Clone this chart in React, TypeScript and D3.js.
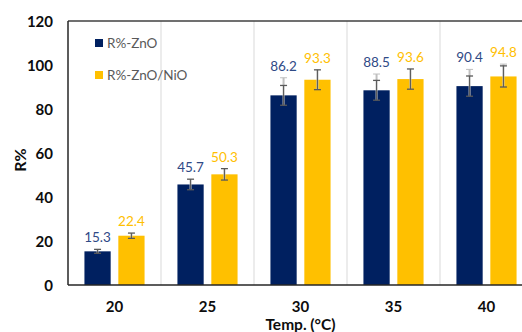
import React from "react";
import * as d3 from "d3";

const categories = ["20", "25", "30", "35", "40"];
const seriesNames = ["R%-ZnO", "R%-ZnO/NiO"];
const znoValues = [15.3, 45.7, 86.2, 88.5, 90.4];
const nioValues = [22.4, 50.3, 93.3, 93.6, 94.8];
const znoErr = [0.9, 2.4, 4.5, 4.5, 4.6];
const nioErr = [1.2, 2.6, 4.5, 4.6, 4.8];
const znoErrUpperLight = [0.9, 2.4, 8.0, 7.4, 7.6];
const nioErrUpperLight = [1.2, 2.6, 4.5, 4.6, 5.6];
const yTicks = [0, 20, 40, 60, 80, 100, 120];

const colors = ["#002060", "#FFC000"];
const labelColors = ["#2F4A86", "#FFC000"];

export default function App() {
  const W = 522, H = 332;
  const left = 68, top = 21, bottom = 285;
  const catW = 93;
  const x = d3.scaleBand<string>().domain(categories).range([left, left + catW * categories.length]).paddingInner(0).paddingOuter(0);
  const xs = d3.scaleBand<string>().domain(seriesNames).range([0, catW]).paddingInner(0.226).paddingOuter(0.485);
  const y = d3.scaleLinear().domain([0, 120]).range([bottom, top]);
  const series = [
    { name: seriesNames[0], values: znoValues, err: znoErr, light: znoErrUpperLight },
    { name: seriesNames[1], values: nioValues, err: nioErr, light: nioErrUpperLight },
  ];
  const font = "Lato, 'Open Sans', sans-serif";
  const right = left + catW * categories.length;
  return (
    <svg width={W} height={H} style={{ position: "absolute", left: 0, top: 0, background: "#fff" }} fontFamily={font}>
      {categories.slice(1).map((c) => (
        <line key={c} x1={x(c)!} x2={x(c)!} y1={top} y2={bottom} stroke="#D9D9D9" strokeWidth={1} />
      ))}
      {series.map((s, si) =>
        categories.map((c, i) => {
          const bx = x(c)! + xs(s.name)!;
          const v = s.values[i];
          return (
            <rect key={s.name + c} x={bx} y={y(v)} width={xs.bandwidth()} height={y(0) - y(v)} fill={colors[si]} />
          );
        })
      )}
      {series.map((s, si) =>
        categories.map((c, i) => {
          const cx = x(c)! + xs(s.name)! + xs.bandwidth() / 2;
          const v = s.values[i];
          const e = s.err[i];
          const l = s.light[i];
          return (
            <g key={"e" + s.name + c}>
              <line x1={cx} x2={cx} y1={y(v + l)} y2={y(v - e)} stroke="#BFBFBF" strokeWidth={2} />
              <line x1={cx} x2={cx} y1={y(v + e)} y2={y(v - e)} stroke="#595959" strokeWidth={1} />
              <line x1={cx - 3.5} x2={cx + 3.5} y1={y(v + e)} y2={y(v + e)} stroke="#595959" strokeWidth={1.3} />
              <line x1={cx - 3.5} x2={cx + 3.5} y1={y(v - e)} y2={y(v - e)} stroke="#595959" strokeWidth={1.3} />
              {l > e + 0.5 && (
                <line x1={cx - 3.5} x2={cx + 3.5} y1={y(v + l)} y2={y(v + l)} stroke="#BFBFBF" strokeWidth={1} />
              )}
            </g>
          );
        })
      )}
      {series.map((s, si) =>
        categories.map((c, i) => {
          const cx = x(c)! + xs(s.name)! + xs.bandwidth() / 2;
          const v = s.values[i];
          const t = Math.max(s.err[i], s.light[i]);
          return (
            <text key={"l" + s.name + c} x={cx} y={y(v + t) - 7} textAnchor="middle" fontSize={13.5} fill={labelColors[si]}>
              {v.toFixed(1)}
            </text>
          );
        })
      )}
      <line x1={left} x2={right} y1={top} y2={top} stroke="#404040" strokeWidth={1.5} />
      <line x1={left} x2={left} y1={top} y2={bottom} stroke="#262626" strokeWidth={1.5} />
      <line x1={left} x2={right} y1={bottom} y2={bottom} stroke="#262626" strokeWidth={1.5} />
      {yTicks.map((t) => (
        <text key={t} x={53} y={y(t) + 5.5} textAnchor="end" fontSize={15} fontWeight="bold" fill="#0D0D0D">
          {t}
        </text>
      ))}
      {categories.map((c) => (
        <text key={c} x={x(c)! + catW / 2} y={312} textAnchor="middle" fontSize={15} fontWeight="bold" fill="#0D0D0D">
          {c}
        </text>
      ))}
      <text x={(left + right) / 2} y={329.5} textAnchor="middle" fontSize={15.5} fontWeight="bold" fill="#0D0D0D">
        Temp. (°C)
      </text>
      <text transform={`translate(26,160) rotate(-90)`} textAnchor="middle" fontSize={16} fontWeight="bold" fill="#0D0D0D">
        R%
      </text>
      {seriesNames.map((n, i) => (
        <g key={n} transform={`translate(95,${43 + i * 32})`}>
          <rect x={0} y={-4} width={8} height={8} fill={colors[i]} />
          <text x={12} y={5} fontSize={13.5} fill="#595959">
            {n}
          </text>
        </g>
      ))}
    </svg>
  );
}
